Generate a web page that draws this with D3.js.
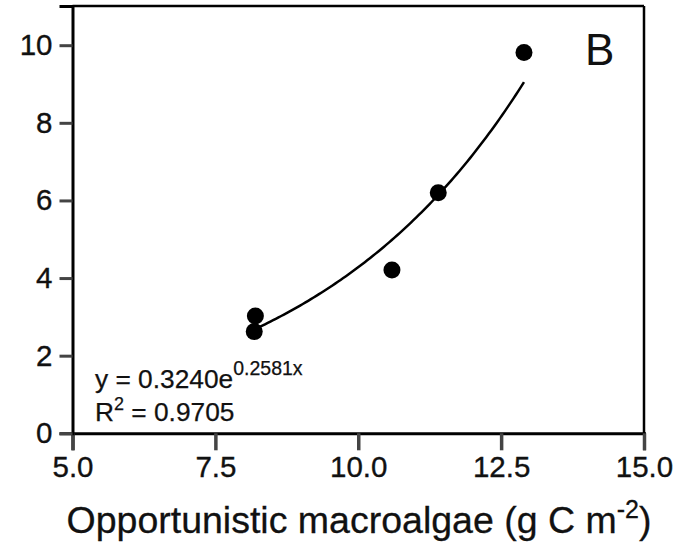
<!DOCTYPE html>
<html>
<head>
<meta charset="utf-8">
<script src="https://cdn.jsdelivr.net/npm/d3@7/dist/d3.min.js"></script>
<style>
  html, body { margin: 0; padding: 0; background: #fff; }
  svg { display: block; font-family: "Liberation Sans", Arial, sans-serif; }
</style>
</head>
<body>
<svg id="chart" width="681" height="543"></svg>
<script>
// Data
const xValues = [8.18, 8.20, 10.59, 11.40, 12.90];
const yValues = [2.62, 3.02, 4.21, 6.20, 9.81];
const xTicks = [5.0, 7.5, 10.0, 12.5, 15.0];
const yTicks = [0, 2, 4, 6, 8, 10];
const fitA = 0.3240;
const fitB = 0.2581;
const fitRange = [8.18, 12.9];
const panelLabel = "B";

const svg = d3.select("#chart");
const FONT = "Liberation Sans, Arial, sans-serif";

const x = d3.scaleLinear().domain([5, 15]).range([72.5, 644]);
const y = d3.scaleLinear().domain([0, 11.01]).range([433.3, 6]);

// frame top and right
svg.append("line").attr("x1", x(5)).attr("x2", x(15)).attr("y1", y(11.01)).attr("y2", y(11.01))
  .attr("stroke", "#000").attr("stroke-width", 2.5);
svg.append("line").attr("x1", x(15)).attr("x2", x(15)).attr("y1", y(0)).attr("y2", y(11.01))
  .attr("stroke", "#000").attr("stroke-width", 2.5);

// axes
const xAxis = d3.axisBottom(x).tickValues(xTicks).tickFormat(d3.format(".1f")).tickSizeOuter(0).tickSize(17).tickPadding(6);
const gx = svg.append("g").attr("transform", `translate(0,${y(0)})`).call(xAxis);
gx.select(".domain").attr("stroke", "#000").attr("stroke-width", 3);
gx.selectAll(".tick line").attr("stroke", "#444").attr("stroke-width", 3.5);
gx.selectAll(".tick text").attr("font-size", 29.5).attr("fill", "#111").attr("font-family", FONT)
  .attr("stroke", "#111").attr("stroke-width", 0.35);

const yAxis = d3.axisLeft(y).tickValues(yTicks).tickFormat(d3.format("d")).tickSizeOuter(0).tickSize(13).tickPadding(7);
const gy = svg.append("g").attr("transform", `translate(${x(5)},0)`).call(yAxis);
gy.select(".domain").attr("stroke", "#000").attr("stroke-width", 3);
gy.selectAll(".tick line").attr("stroke", "#444").attr("stroke-width", 3);
gy.selectAll(".tick text").attr("font-size", 29.5).attr("fill", "#111").attr("font-family", FONT)
  .attr("stroke", "#111").attr("stroke-width", 0.35);

// x axis title
const title = svg.append("text").attr("x", 359).attr("y", 533).attr("text-anchor", "middle")
  .attr("font-size", 37.5).attr("fill", "#111").attr("stroke", "#111").attr("stroke-width", 0.3);
title.append("tspan").text("Opportunistic macroalgae (g C m");
title.append("tspan").attr("font-size", 25).attr("dy", -15).text("-2");
title.append("tspan").attr("dy", 15).text(")");

// fit curve
const fitX = d3.range(0, 101).map(i => fitRange[0] + (fitRange[1] - fitRange[0]) * i / 100);
const line = d3.line().x(d => x(d)).y(d => y(fitA * Math.exp(fitB * d))).curve(d3.curveLinear);
svg.append("path").datum(fitX).attr("d", line).attr("fill", "none").attr("stroke", "#000").attr("stroke-width", 2.5);

// points
svg.append("g").selectAll("circle").data(xValues.map((d, i) => [d, yValues[i]])).join("circle")
  .attr("cx", d => x(d[0])).attr("cy", d => y(d[1])).attr("r", 8.5).attr("fill", "#000");

// equation
const eq = svg.append("text").attr("x", 95).attr("y", 388).attr("font-size", 26.3).attr("fill", "#111")
  .attr("stroke", "#111").attr("stroke-width", 0.25);
eq.append("tspan").text(`y = ${fitA.toFixed(4)}e`);
eq.append("tspan").attr("font-size", 19.5).attr("dy", -13).text(`${fitB.toFixed(4)}x`);
const r2 = svg.append("text").attr("x", 95).attr("y", 421).attr("font-size", 26.3).attr("fill", "#111")
  .attr("stroke", "#111").attr("stroke-width", 0.25);
r2.append("tspan").text("R");
r2.append("tspan").attr("font-size", 18).attr("dy", -11).text("2");
r2.append("tspan").attr("dy", 11).text(" = 0.9705");

// panel label
svg.append("text").attr("x", 585).attr("y", 65).attr("font-size", 44).attr("fill", "#111").text(panelLabel);
</script>
</body>
</html>
